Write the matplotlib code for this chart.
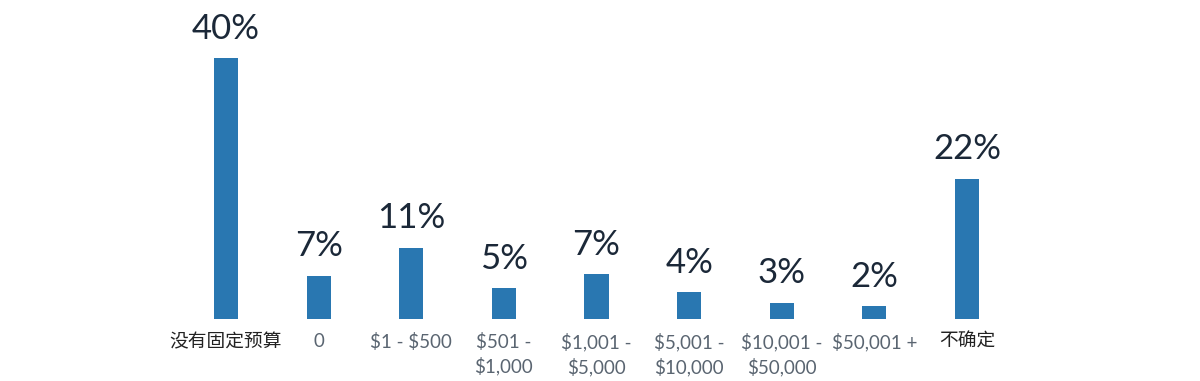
import matplotlib
matplotlib.use("Agg")
import matplotlib.pyplot as plt

categories = ["没有固定预算", "0", "\\$1 - \\$500", "\\$501 -\n\\$1,000", "\\$1,001 -\n\\$5,000",
              "\\$5,001 -\n\\$10,000", "\\$10,001 -\n\\$50,000", "\\$50,001 +", "不确定"]
values = [40, 6.6, 10.9, 4.7, 6.85, 4.1, 2.5, 2.0, 21.5]
value_labels = ["40%", "7%", "11%", "5%", "7%", "4%", "3%", "2%", "22%"]

plt.rcParams['font.family'] = ['Lato', 'Noto Sans CJK SC', 'DejaVu Sans']

fig = plt.figure(figsize=(12, 3.81), dpi=100)
ax = fig.add_axes([179.7/1200, 62/381, 833.6/1200, 261/381])
x = list(range(len(categories)))
bars = ax.bar(x, values, width=0.26, color="#2977b1")
ax.set_xlim(-0.5, len(categories) - 0.5)
ax.set_ylim(0, 40)

for xi, v, lab in zip(x, values, value_labels):
    ax.annotate(lab, (xi, v), xytext=(0, 14), textcoords="offset points",
                ha="center", va="baseline", fontsize=25, color="#1b2838")

ax.set_xticks(x)
ax.set_xticklabels(categories, fontsize=13.5, linespacing=1.4)
for t in ax.get_xticklabels():
    if any(ord(c) > 0x2E80 for c in t.get_text()):
        t.set_color("#222222")
    else:
        t.set_color("#5a6571")
ax.tick_params(axis="x", length=0, pad=10)
ax.set_yticks([])
for s in ax.spines.values():
    s.set_visible(False)

fig.savefig("out.png", dpi=100)
